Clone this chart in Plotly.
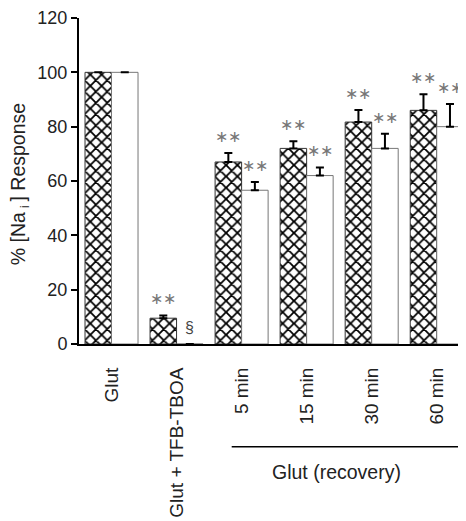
import plotly.graph_objects as go

categories = ["Glut", "Glut + TFB-TBOA", "5 min", "15 min", "30 min", "60 min"]
hatched_vals = [100, 9.5, 67, 72, 81.7, 86]
hatched_err = [0, 1.0, 3.3, 2.6, 4.4, 5.9]
white_vals = [100, 0, 56.6, 62, 72, 80]
white_err = [0, 0, 3.0, 3.0, 5.4, 8.3]
hatched_sig = ["", "**", "**", "**", "**", "**"]
white_sig = ["", "§", "**", "**", "**", "**"]
y_ticks = [0, 20, 40, 60, 80, 100, 120]

FONT = "Liberation Sans, Arial, sans-serif"
idx = list(range(len(categories)))


def err_arr(errs):
    return [e if e > 0 else None for e in errs]


fig = go.Figure()
fig.add_trace(go.Bar(
    x=idx, y=hatched_vals,
    marker=dict(color="white", line=dict(color="#333", width=1),
                pattern=dict(shape="x", fgcolor="black", fgopacity=1, bgcolor="white",
                             size=8, solidity=0.4)),
    error_y=dict(type="data", symmetric=False, array=err_arr(hatched_err),
                 arrayminus=[0]*6, color="black", thickness=2, width=4),
    showlegend=False,
))
fig.add_trace(go.Bar(
    x=idx, y=white_vals,
    marker=dict(color="white", line=dict(color="#777", width=1)),
    error_y=dict(type="data", symmetric=False, array=err_arr(white_err),
                 arrayminus=[0]*6, color="black", thickness=2, width=4),
    showlegend=False,
))

annotations = []
off = 0.204
for i in idx:
    if hatched_sig[i]:
        annotations.append(dict(x=i - off, y=hatched_vals[i] + hatched_err[i], xref="x", yref="y",
                                text="∗∗", showarrow=False, yanchor="bottom", yshift=6,
                                font=dict(size=16, color="#777", family=FONT)))
    if white_sig[i]:
        if white_sig[i] == "§":
            annotations.append(dict(x=i + off, y=white_vals[i], xref="x", yref="y",
                                    text="§", showarrow=False, yanchor="bottom", yshift=6,
                                    font=dict(size=16, color="#444", family=FONT)))
        else:
            annotations.append(dict(x=i + off, y=white_vals[i] + white_err[i], xref="x", yref="y",
                                    text="∗∗", showarrow=False, yanchor="bottom", yshift=6,
                                    font=dict(size=16, color="#777", family=FONT)))

PW, PH = 387, 326
# y-axis title
annotations.append(dict(x=-60/PW, y=0.49, xref="paper", yref="paper",
                        text="% [Na<sub> i </sub>] Response", textangle=-90, showarrow=False,
                        xanchor="center", yanchor="middle",
                        font=dict(size=19.5, color="#222", family=FONT)))
# group label
annotations.append(dict(x=(336.7-79)/PW, y=-(471.7-344)/PH, xref="paper", yref="paper",
                        text="Glut (recovery)", showarrow=False, xanchor="center", yanchor="middle",
                        font=dict(size=19.5, color="#222", family=FONT)))

fig.update_layout(
    width=458, height=513,
    margin=dict(l=71, r=0, t=10, b=177, autoexpand=False),
    plot_bgcolor="white", paper_bgcolor="white",
    barmode="group", bargap=0.185, bargroupgap=0,
    annotations=annotations,
    shapes=[dict(type="line", xref="paper", yref="paper",
                 x0=(231.7-79)/PW, x1=(460-79)/PW,
                 y0=-(446.7-344)/PH, y1=-(446.7-344)/PH,
                 line=dict(color="black", width=1.5))],
    xaxis=dict(range=[-0.5, 5.45], tickvals=idx, ticktext=categories, tickangle=-90,
               ticks="", showline=True, linecolor="black", linewidth=2,
               showgrid=False, zeroline=False, ticklabelstandoff=14, automargin=False,
               tickfont=dict(size=19, color="#222", family=FONT)),
    yaxis=dict(range=[0, 120], tickvals=y_ticks, ticks="outside", ticklen=6, tickwidth=1.5,
               tickcolor="black", showline=True, linecolor="black", linewidth=2,
               showgrid=False, zeroline=False, automargin=False,
               tickfont=dict(size=18, color="#222", family=FONT)),
)

fig.write_html("out.html")
